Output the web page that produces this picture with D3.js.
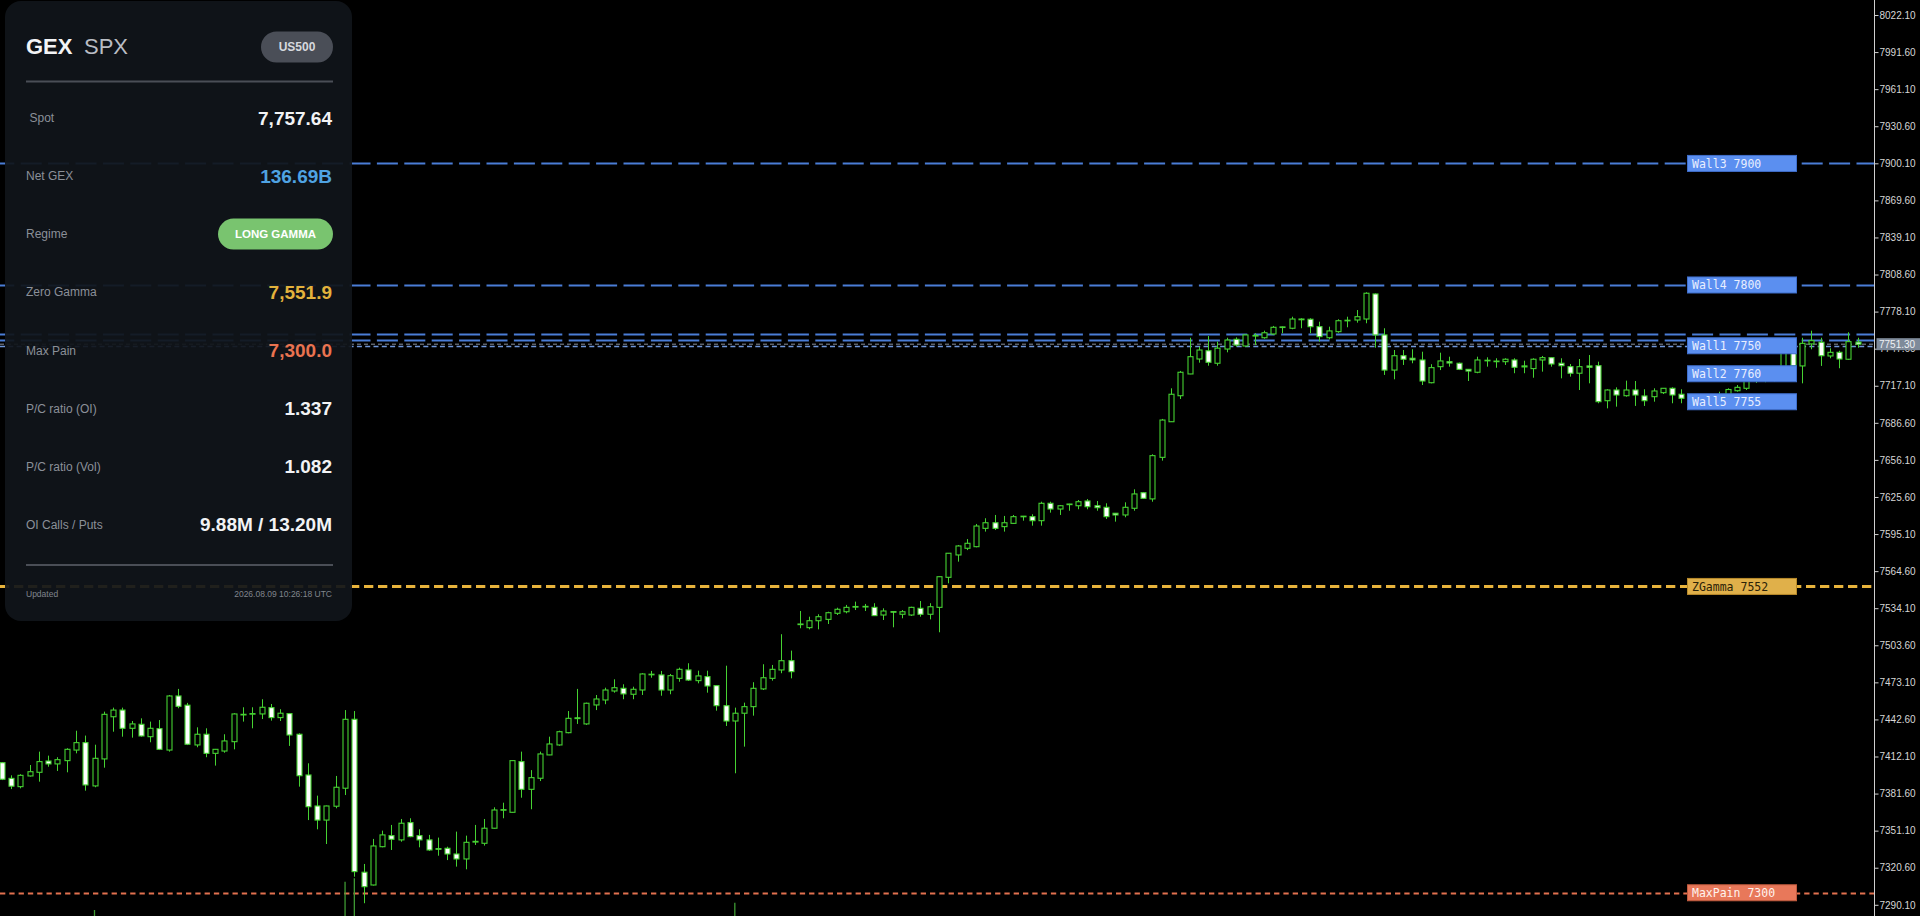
<!DOCTYPE html>
<html><head><meta charset="utf-8">
<script src="https://cdn.jsdelivr.net/npm/d3@7"></script>
<style>
html,body{margin:0;padding:0;background:#000;overflow:hidden}
svg{display:block}
</style></head><body>
<svg id="c" width="1920" height="916"></svg>
<script>
// ---------- DATA ----------
const openP = [7407.0,7394.1,7387.3,7396.1,7399.1,7408.4,7406.0,7408.7,7417.4,7423.5,
7387.9,7410.1,7444.8,7450.3,7435.3,7438.6,7428.4,7435.0,7417.4,7461.9,
7454.3,7421.6,7430.4,7414.7,7416.6,7424.3,7446.8,7447.0,7447.1,7452.3,
7444.1,7447.4,7430.4,7396.9,7371.4,7359.8,7371.2,7386.0,7442.7,7316.9,
7306.4,7337.9,7347.0,7343.5,7357.7,7347.0,7343.5,7336.3,7336.6,7331.9,
7327.8,7341.7,7340.7,7353.1,7367.9,7366.2,7407.9,7385.1,7394.2,7413.4,
7421.6,7431.7,7443.9,7438.9,7454.5,7458.6,7466.0,7468.2,7463.3,7466.8,
7479.4,7479.2,7466.8,7476.4,7483.3,7474.5,7477.8,7470.4,7453.9,7441.3,
7447.7,7453.1,7467.7,7476.4,7483.3,7490.9,7520.6,7518.1,7523.8,7524.9,
7529.9,7531.2,7535.5,7535.3,7534.8,7528.5,7531.3,7529.1,7528.5,7534.0,
7529.1,7534.8,7559.5,7577.9,7583.4,7584.7,7599.8,7604.4,7601.2,7603.9,
7609.8,7609.4,7606.1,7620.4,7615.7,7619.8,7618.4,7622.3,7618.4,7617.1,
7612.2,7610.8,7616.3,7629.1,7624.0,7658.2,7687.5,7708.9,7726.8,7739.1,
7745.9,7735.6,7747.3,7755.3,7749.8,7758.1,7756.6,7759.7,7765.5,7764.4,
7772.0,7771.8,7765.7,7756.6,7761.6,7771.0,7771.2,7772.0,7792.6,7758.9,
7730.0,7741.8,7739.7,7738.3,7719.6,7732.8,7736.9,7735.6,7730.6,7728.2,
7737.6,7737.4,7736.9,7738.3,7733.4,7731.2,7738.3,7740.2,7735.6,7732.8,
7727.4,7733.4,7733.6,7704.8,7713.6,7708.9,7713.6,7708.7,7708.1,7711.4,
7715.0,7710.1,7706.8,7703.5,7701.0,7704.0,7707.9,7713.0,7715.0,7722.0,
7725.0,7723.0,7724.0,7748.0,7733.4,7751.5,7752.9,7741.6,7744.6,7738.9,
7753.0];
const highP = [7407.5,7396.6,7397.5,7405.1,7416.1,7412.8,7411.5,7418.9,7433.3,7429.3,
7421.8,7449.0,7452.3,7452.3,7441.3,7443.5,7440.8,7442.1,7462.7,7467.7,
7456.2,7436.1,7435.3,7418.3,7430.4,7447.7,7452.6,7452.6,7459.2,7455.3,
7451.0,7447.9,7431.2,7406.5,7379.9,7371.7,7396.1,7450.3,7449.5,7323.7,
7344.3,7351.1,7355.8,7360.7,7361.3,7352.2,7347.6,7345.4,7337.9,7350.3,
7347.0,7355.8,7360.7,7370.3,7374.1,7409.0,7416.1,7400.9,7416.1,7428.4,
7433.3,7449.5,7467.7,7456.4,7462.7,7468.7,7475.6,7471.5,7469.5,7480.6,
7482.5,7482.5,7480.0,7485.2,7488.8,7482.7,7482.7,7470.6,7486.8,7452.3,
7456.4,7473.2,7488.0,7487.4,7512.7,7499.2,7531.8,7527.1,7529.1,7531.2,
7534.5,7536.8,7539.5,7537.6,7538.2,7534.0,7531.5,7532.6,7535.3,7540.0,
7538.2,7560.3,7579.5,7586.1,7591.0,7603.4,7608.1,7610.8,7610.0,7610.8,
7610.0,7611.4,7621.7,7621.7,7619.0,7620.0,7623.1,7623.9,7622.3,7620.4,
7612.4,7621.2,7631.9,7629.5,7660.7,7689.8,7715.0,7729.3,7756.6,7749.2,
7758.0,7753.4,7756.6,7756.9,7759.4,7760.3,7762.4,7766.3,7765.8,7773.9,
7772.6,7772.6,7769.8,7765.7,7771.8,7773.9,7779.4,7794.0,7793.0,7764.4,
7746.5,7746.5,7747.1,7745.1,7734.8,7744.3,7741.0,7736.1,7730.8,7741.0,
7740.5,7739.7,7739.7,7739.7,7737.7,7739.7,7741.6,7740.5,7739.7,7735.0,
7739.1,7742.4,7736.9,7714.2,7715.8,7721.3,7721.0,7714.2,7715.0,7715.2,
7715.8,7714.2,7707.5,7707.8,7707.5,7712.2,7715.0,7717.7,7725.1,7728.0,
7729.0,7731.0,7751.0,7752.0,7756.6,7762.4,7756.6,7747.9,7745.9,7761.1,
7756.6];
const lowP = [7392.7,7385.3,7385.9,7395.6,7391.4,7403.7,7400.2,7399.1,7414.7,7384.0,
7386.8,7402.9,7432.5,7428.4,7427.6,7428.4,7423.8,7417.4,7416.1,7451.8,
7421.5,7419.7,7411.5,7404.6,7415.2,7418.0,7440.8,7435.3,7442.9,7441.6,
7441.3,7420.8,7387.3,7359.8,7352.2,7340.1,7369.5,7380.4,7313.2,7291.4,
7306.0,7337.4,7335.2,7342.0,7345.7,7337.4,7334.4,7330.5,7326.9,7321.5,
7319.3,7339.3,7338.8,7352.8,7361.3,7366.0,7378.2,7368.7,7391.9,7413.2,
7421.0,7431.2,7438.9,7438.1,7450.3,7455.1,7464.6,7459.2,7459.2,7462.7,
7476.9,7462.1,7463.3,7473.6,7474.2,7472.3,7464.6,7449.8,7437.2,7398.3,
7420.2,7445.7,7466.8,7474.5,7480.6,7476.4,7517.6,7516.7,7516.7,7521.1,
7528.5,7529.9,7532.6,7531.8,7527.8,7524.4,7518.4,7525.8,7527.7,7527.1,
7524.9,7514.3,7554.6,7572.4,7581.9,7584.2,7597.1,7598.4,7597.1,7603.4,
7606.1,7602.0,7602.0,7612.7,7610.8,7614.3,7615.5,7615.5,7614.3,7607.5,
7605.3,7608.9,7614.3,7624.0,7621.7,7655.5,7687.3,7706.2,7726.6,7736.1,
7733.6,7733.6,7744.6,7749.2,7749.2,7750.6,7755.8,7758.9,7760.3,7763.6,
7764.4,7760.3,7753.4,7755.3,7760.7,7765.2,7769.0,7768.5,7748.4,7726.0,
7722.4,7734.2,7735.6,7717.7,7719.1,7730.0,7732.8,7730.0,7721.0,7727.4,
7732.8,7731.9,7734.2,7727.4,7727.4,7723.7,7728.7,7732.8,7723.2,7724.6,
7713.6,7719.1,7702.7,7698.5,7699.9,7708.1,7700.5,7700.5,7704.0,7710.3,
7702.7,7702.7,7699.0,7697.5,7698.0,7700.0,7705.4,7712.2,7713.6,7719.5,
7720.0,7720.5,7722.0,7731.0,7719.1,7747.1,7733.4,7739.7,7731.5,7738.3,
7748.4];
const closeP = [7393.4,7387.7,7396.6,7399.6,7407.9,7406.0,7409.5,7418.0,7423.5,7388.7,
7410.6,7446.8,7450.3,7435.3,7438.9,7429.0,7435.3,7418.0,7461.9,7453.4,
7422.2,7430.4,7414.7,7418.0,7424.9,7447.1,7446.5,7447.4,7452.6,7444.1,
7447.7,7429.8,7396.3,7370.8,7359.8,7371.4,7386.8,7442.7,7317.4,7305.0,
7338.5,7347.6,7344.0,7357.2,7346.2,7343.5,7335.2,7336.0,7331.9,7327.8,
7341.5,7342.3,7353.1,7368.1,7368.4,7408.7,7385.1,7394.7,7414.2,7422.4,
7432.5,7443.5,7443.3,7455.9,7459.4,7466.8,7468.7,7463.6,7467.4,7480.0,
7479.8,7466.8,7478.6,7483.8,7475.0,7478.4,7470.1,7453.9,7441.3,7447.7,
7453.1,7468.2,7476.9,7483.8,7490.9,7481.9,7521.1,7523.8,7527.1,7530.4,
7533.2,7534.8,7535.1,7535.6,7528.0,7531.8,7531.1,7531.2,7534.8,7529.1,
7535.3,7560.0,7579.3,7585.3,7587.5,7601.7,7604.4,7599.8,7604.4,7609.4,
7609.6,7606.1,7620.4,7615.7,7618.4,7619.5,7621.7,7617.6,7616.8,7609.4,
7610.8,7617.1,7628.1,7624.5,7659.6,7688.9,7710.1,7728.2,7741.0,7746.5,
7736.4,7748.0,7754.7,7750.6,7758.9,7758.5,7760.7,7765.2,7765.2,7772.0,
7771.4,7765.7,7757.5,7762.2,7770.6,7770.7,7773.9,7793.2,7758.9,7730.0,
7741.8,7738.9,7738.4,7721.0,7732.0,7737.5,7735.8,7730.6,7729.2,7738.3,
7738.1,7737.0,7738.9,7732.3,7732.6,7738.9,7740.2,7735.0,7733.6,7727.4,
7732.8,7732.3,7704.0,7713.6,7709.5,7713.6,7709.5,7704.8,7712.8,7715.0,
7709.5,7706.8,7703.5,7701.0,7704.0,7706.5,7714.0,7715.8,7721.8,7725.0,
7723.0,7728.0,7748.0,7733.4,7752.0,7754.2,7741.8,7744.6,7739.1,7753.4,
7751.3];
// tick volume spikes visible at the bottom edge (bar index, volume)
const volIndex = [10, 37, 38, 79];
const volValue = [1800, 10300, 11300, 4000];
// right price-axis tick labels
const axisTicks = [8022.10,7991.60,7961.10,7930.60,7900.10,7869.60,7839.10,7808.60,7778.10,7747.60,
7717.10,7686.60,7656.10,7625.60,7595.10,7564.60,7534.10,7503.60,7473.10,7442.60,
7412.10,7381.60,7351.10,7320.60,7290.10];
// GEX levels
const levelNames  = ["Wall3","Wall4","Wall1","Wall2","Wall5","ZGamma","MaxPain"];
const levelValues = [7900, 7800, 7750, 7760, 7755, 7552, 7300];
const levelKinds  = ["wall","wall","wall1","wall","wall","zgamma","maxpain"];
const bidPrice = 7751.30;
// info panel
const panelSymbol = "SPX";
const panelBadge = "US500";
const panelRows   = ["Spot","Net GEX","Regime","Zero Gamma","Max Pain","P/C ratio (OI)","P/C ratio (Vol)","OI Calls / Puts"];
const panelValues = ["7,757.64","136.69B","LONG GAMMA","7,551.9","7,300.0","1.337","1.082","9.88M / 13.20M"];
const panelUpdated = "2026.08.09 10:26:18 UTC";

// ---------- DRAW ----------
const W = 1920, H = 916, axisX = 1874.5;
const svg = d3.select("#c");
svg.append("rect").attr("width", W).attr("height", H).attr("fill", "#000");

const x = d3.scaleLinear().domain([0, openP.length - 1]).range([1.7, 1857.7]);
const y = d3.scaleLinear().domain([7290.1, 8022.1]).range([904.8, 15]);
const vScale = d3.scaleLinear().domain([0, 12000]).range([0, 40]);

const green = "#46d232";
const styles = {
  wall:    {stroke:"#4a7dd6", width:2,   dash:"21,6.4", off:6.7},
  wall1:   {stroke:"#6f96da", width:1.6, dash:"5,3.3",  off:0},
  zgamma:  {stroke:"#e8b33c", width:3,   dash:"9.3,4.7", off:0},
  maxpain: {stroke:"#e2714f", width:2,   dash:"5.3,4",  off:0}
};
const boxStyles = {
  wall:    {fill:"#5b8ff0", stroke:"#3f6fcc", text:"#e8eeff"},
  wall1:   {fill:"#5b8ff0", stroke:"#3f6fcc", text:"#e8eeff"},
  zgamma:  {fill:"#e0b04a", stroke:"#b88a2a", text:"#2b2208"},
  maxpain: {fill:"#e8785a", stroke:"#c05a3e", text:"#fff3ee"}
};

const levels = levelNames.map((n, i) => ({name:n, value:levelValues[i], kind:levelKinds[i]}));

// level lines
const gLines = svg.append("g");
gLines.selectAll("line").data(levels).join("line")
  .attr("x1", 0).attr("x2", axisX)
  .attr("y1", d => Math.round(y(d.value)) + 0.5).attr("y2", d => Math.round(y(d.value)) + 0.5)
  .attr("stroke", d => styles[d.kind].stroke)
  .attr("stroke-width", d => styles[d.kind].width)
  .attr("stroke-dasharray", d => styles[d.kind].dash)
  .attr("stroke-dashoffset", d => styles[d.kind].off);
// bid line
gLines.append("line").attr("x1", 0).attr("x2", axisX)
  .attr("y1", y(bidPrice)).attr("y2", y(bidPrice))
  .attr("stroke", "#8a929e").attr("stroke-width", 1).attr("stroke-dasharray", "4,3");

// volume spikes
const vols = volIndex.map((i, k) => ({i, v: volValue[k]}));
svg.append("g").selectAll("line").data(vols).join("line")
  .attr("x1", d => x(d.i)).attr("x2", d => x(d.i))
  .attr("y1", H).attr("y2", d => H - vScale(d.v))
  .attr("stroke", "#3f9a34").attr("stroke-width", 1.3);

// candles
const bars = openP.map((o, i) => ({i, o, h: highP[i], l: lowP[i], c: closeP[i]}));
const gC = svg.append("g");
gC.selectAll("line").data(bars).join("line")
  .attr("x1", d => Math.round(x(d.i)) + 0.5).attr("x2", d => Math.round(x(d.i)) + 0.5)
  .attr("y1", d => y(d.h)).attr("y2", d => y(d.l))
  .attr("stroke", green).attr("stroke-width", 1);
gC.selectAll("rect").data(bars).join("rect")
  .attr("x", d => Math.round(x(d.i)) - 2)
  .attr("width", 5)
  .attr("y", d => y(Math.max(d.o, d.c)))
  .attr("height", d => Math.max(0.6, Math.abs(y(d.o) - y(d.c))))
  .attr("fill", d => d.c >= d.o ? "#000" : "#ffffff")
  .attr("stroke", green).attr("stroke-width", 1.1);

// level labels with stacking
const placed = [];
levels.forEach(d => {
  let cy = y(d.value);
  let moved = true;
  while (moved) {
    moved = false;
    for (const p of placed) {
      if (Math.abs(p - cy) < 28) { cy = p + 28; moved = true; }
    }
  }
  placed.push(cy);
  d.cy = cy;
});
const gL = svg.append("g");
const lab = gL.selectAll("g").data(levels).join("g");
lab.append("rect")
  .attr("x", 1687.5).attr("y", d => d.cy - 8).attr("width", 109).attr("height", 16)
  .attr("fill", d => boxStyles[d.kind].fill).attr("stroke", d => boxStyles[d.kind].stroke).attr("stroke-width", 1);
lab.append("text")
  .attr("x", 1692).attr("y", d => d.cy + 4.3)
  .attr("font-family", "'DejaVu Sans Mono', monospace").attr("font-size", 11.5)
  .attr("fill", d => boxStyles[d.kind].text)
  .text(d => d.name + " " + d.value);

// right axis
svg.append("rect").attr("x", axisX).attr("y", 0).attr("width", W - axisX).attr("height", H).attr("fill", "#000");
const axis = d3.axisRight(y).tickValues(axisTicks).tickSize(4).tickFormat(d3.format(".2f"));
const gA = svg.append("g").attr("transform", `translate(${axisX},0)`).call(axis);
gA.select(".domain").remove();
gA.selectAll(".tick line").attr("stroke", "#cfcfcf");
gA.selectAll(".tick text").attr("x", 5).attr("fill", "#d6d6d6")
  .attr("font-family", "'Liberation Sans', Arial, sans-serif").attr("font-size", 10);
svg.append("line").attr("x1", axisX).attr("x2", axisX).attr("y1", 0).attr("y2", H)
  .attr("stroke", "#cfcfcf").attr("stroke-width", 1);
// bid tag
const by = y(bidPrice);
svg.append("rect").attr("x", 1876.5).attr("y", by - 6).attr("width", 44).attr("height", 12)
  .attr("fill", "#7e8a9a");
svg.append("text").attr("x", 1879).attr("y", by + 3.6).attr("fill", "#eef1f5")
  .attr("font-family", "'Liberation Sans', Arial, sans-serif").attr("font-size", 10)
  .text(d3.format(".2f")(bidPrice));

// info panel
const P = svg.append("g");
P.append("rect").attr("x", 5).attr("y", 1).attr("width", 347).attr("height", 620).attr("rx", 16)
  .attr("fill", "#10141a").attr("fill-opacity", 0.93);
const sans = "'Liberation Sans', Arial, sans-serif";
P.append("text").attr("x", 26).attr("y", 54).attr("font-family", sans).attr("font-size", 22)
  .attr("font-weight", "bold").attr("fill", "#f3f4f6").text("GEX");
P.append("text").attr("x", 84).attr("y", 54).attr("font-family", sans).attr("font-size", 22)
  .attr("fill", "#b9bdc4").text(panelSymbol);
P.append("rect").attr("x", 261).attr("y", 31.5).attr("width", 72).attr("height", 31).attr("rx", 15.5)
  .attr("fill", "#4a4e57");
P.append("text").attr("x", 297).attr("y", 51.3).attr("text-anchor", "middle").attr("font-family", sans)
  .attr("font-size", 12).attr("font-weight", "bold").attr("fill", "#d6d9de").text(panelBadge);
P.append("line").attr("x1", 26).attr("x2", 333).attr("y1", 81.5).attr("y2", 81.5)
  .attr("stroke", "#4a4e56").attr("stroke-width", 2);
P.append("line").attr("x1", 26).attr("x2", 333).attr("y1", 565).attr("y2", 565)
  .attr("stroke", "#4a4e56").attr("stroke-width", 2);

const valueColors = ["#f2f3f5","#4fa3e3",null,"#e3b23c","#ea7350","#f2f3f5","#f2f3f5","#f2f3f5"];
panelRows.forEach((r, k) => {
  const cy = 118 + k * 58.05;
  P.append("text").attr("x", k === 0 ? 29.5 : 26).attr("y", cy + 4.3).attr("font-family", sans)
    .attr("font-size", 12).attr("fill", "#8b9098").text(r);
  if (panelRows[k] === "Regime") {
    P.append("rect").attr("x", 218).attr("y", cy - 15.5).attr("width", 115).attr("height", 31).attr("rx", 15.5)
      .attr("fill", "#79c46f");
    P.append("text").attr("x", 275.5).attr("y", cy + 4.2).attr("text-anchor", "middle").attr("font-family", sans)
      .attr("font-size", 11.5).attr("font-weight", "bold").attr("fill", "#ffffff").text(panelValues[k]);
  } else {
    P.append("text").attr("x", 332).attr("y", cy + 6.8).attr("text-anchor", "end").attr("font-family", sans)
      .attr("font-size", 19).attr("font-weight", "bold").attr("fill", valueColors[k]).text(panelValues[k]);
  }
});
P.append("text").attr("x", 26).attr("y", 597.3).attr("font-family", sans).attr("font-size", 8.5)
  .attr("fill", "#80858d").text("Updated");
P.append("text").attr("x", 332).attr("y", 597.3).attr("text-anchor", "end").attr("font-family", sans)
  .attr("font-size", 8.5).attr("fill", "#80858d").text(panelUpdated);
</script>
</body></html>
